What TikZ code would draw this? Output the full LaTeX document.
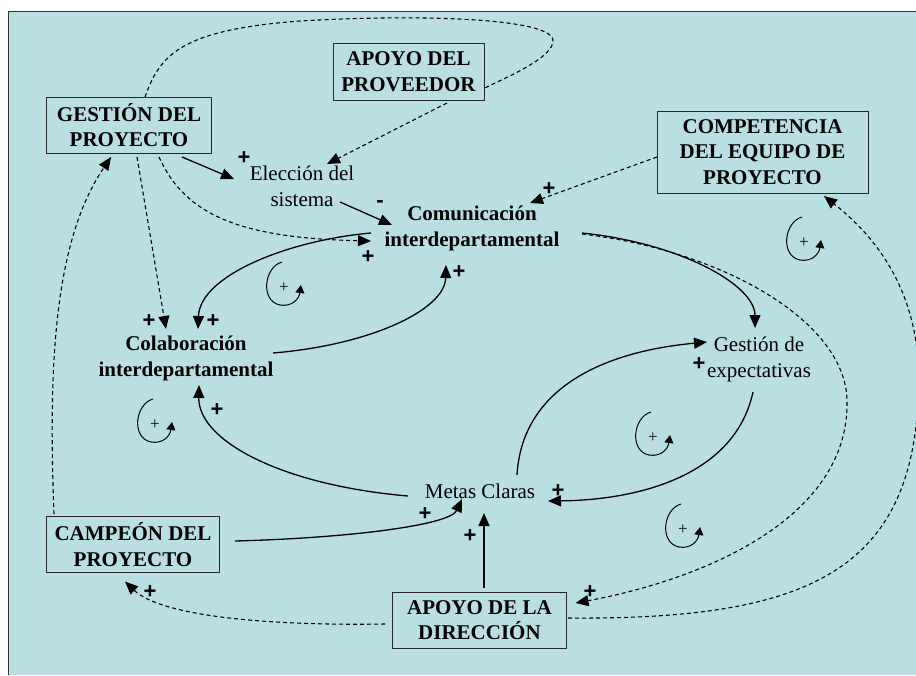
\documentclass[tikz,border=0pt]{standalone}
\usepackage{fontspec}
\setmainfont{Liberation Serif}
\newfontfamily\signfont{Liberation Sans}
\usetikzlibrary{arrows.meta}
\definecolor{bgblue}{RGB}{186,223,227}
\begin{document}
\begin{tikzpicture}[x=1pt,y=-1pt,
  box/.style={draw=black!85, line width=0.9pt, align=center, inner sep=0pt,
    font=\bfseries\fontsize{21}{25.5}\selectfont},
  var/.style={align=center, inner sep=0pt, font=\fontsize{21}{26}\selectfont},
  bvar/.style={align=center, inner sep=0pt, font=\bfseries\fontsize{21}{26}\selectfont},
  sign/.style={inner sep=0pt, font=\signfont\bfseries\fontsize{22}{22}\selectfont},
  link/.style={line width=1.3pt, -{Triangle[length=13pt,width=11pt]}},
  dlink/.style={line width=1.1pt, dash pattern=on 4pt off 3pt, -{Triangle[length=13pt,width=11pt]}},
  dline/.style={line width=1.1pt, dash pattern=on 4pt off 3pt},
  loopsign/.pic={
    \draw[line width=1pt, -{Triangle[length=8pt,width=9pt]}]
      (-2,-25) .. controls (-20,-20) and (-24,14) .. (-4,18)
      .. controls (8,20) and (15,12) .. (17,-2);
    \node[inner sep=0pt, font=\fontsize{17}{17}\selectfont] (-s) at (0,1) {+};
  }]
\clip (0,0) rectangle (916,675);
\fill[white] (0,0) rectangle (916,675);
\fill[bgblue] (8,11) rectangle (916,675);
\draw[line width=1pt, black!80] (8,675) -- (8,11) -- (916,11);

% boxes
\node[box, minimum width=165, minimum height=56] (gp) at (129,125) {GESTIÓN DEL\\PROYECTO};
\node[box, minimum width=151, minimum height=57] (ap) at (408.5,71.5) {APOYO DEL\\PROVEEDOR};
\node[box, minimum width=211, minimum height=82] (ce) at (762.5,152) {COMPETENCIA\\DEL EQUIPO DE\\PROYECTO};
\node[box, minimum width=173, minimum height=56] (cp) at (133,544.5) {CAMPEÓN DEL\\PROYECTO};
\node[box, minimum width=174, minimum height=56] (ad) at (479.5,620) {APOYO DE LA\\DIRECCIÓN};

% variables
\node[var] (es) at (302,186) {Elección del\\sistema};
\node[bvar] (ci) at (472,228) {Comunicación\\interdepartamental};
\node[bvar] (co) at (186,358) {Colaboración\\interdepartamental};
\node[var] (ge) at (759,359) {Gestión de\\expectativas};
\node[var] (mc) at (480,491) {Metas Claras};

% connectors
\draw[link] ([shift={(53,32)}]gp.center) -- ([shift={(-68,-7)}]es.center);
\draw[dlink] ([shift={(38.5,31.5)}]ap.center) -- ([shift={(25,-22)}]es.center);
\draw[dline] ([shift={(16,-28)}]gp.center) .. controls (160,55) and (180,30) .. (300,21)
   .. controls (420,14) and (550,18) .. (553,40)
   .. controls (555,58) and (500,80) .. ([shift={(76.5,16.5)}]ap.center);
\draw[link] ([shift={(38,16)}]es.center) -- ([shift={(-80,-3)}]ci.center);
\draw[dlink] ([shift={(30,32)}]gp.center) .. controls (185,215) and (240,238) .. ([shift={(-101,13)}]ci.center);
\draw[dlink] ([shift={(8,32)}]gp.center) -- ([shift={(-20,-29)}]co.center);
\draw[link] ([shift={(-101,5)}]ci.center) .. controls (290,240) and (200,275) .. ([shift={(12,-29)}]co.center);
\draw[link] ([shift={(87,-5)}]co.center) .. controls (370,345) and (445,310) .. ([shift={(-26,37)}]ci.center);
\draw[link] ([shift={(110,5)}]ci.center) .. controls (680,243) and (755,285) .. ([shift={(-4,-31)}]ge.center);
\draw[dlink] ([shift={(110,6)}]ci.center) .. controls (720,250) and (845,320) .. (847,400)
   .. controls (850,520) and (700,580) .. ([shift={(96,-17)}]ad.center);
\draw[link] ([shift={(37,-16)}]mc.center) .. controls (522,390) and (600,352) .. ([shift={(-52,-17)}]ge.center);
\draw[link] ([shift={(-6,33)}]ge.center) .. controls (735,475) and (640,500) .. ([shift={(68,10)}]mc.center);
\draw[link] ([shift={(-72,5)}]mc.center) .. controls (280,485) and (198,440) .. ([shift={(13,27)}]co.center);
\draw[link] ([shift={(102,-3.5)}]cp.center) .. controls (350,538) and (450,525) .. ([shift={(-18,8)}]mc.center);
\draw[link] ([shift={(4.5,-32)}]ad.center) -- ([shift={(4,22)}]mc.center);
\draw[dlink] ([shift={(-79,-30.5)}]cp.center) .. controls (48,360) and (55,240) .. ([shift={(-18,32)}]gp.center);
\draw[dlink] ([shift={(-94.5,4)}]ad.center) .. controls (260,626) and (160,615) .. ([shift={(-8,37)}]cp.center);
\draw[dlink] ([shift={(88.5,-2)}]ad.center) .. controls (800,620) and (910,575) .. (918,400)
   .. controls (925,300) and (880,240) .. ([shift={(61.5,44)}]ce.center);
\draw[dlink] ([shift={(-105.5,5)}]ce.center) -- ([shift={(58,-25)}]ci.center);

% signs
\node[sign] (s1) at (244,158) {+};
\node[sign] (s2) at (380,204) {-};
\node[sign] (s3) at (368,257) {+};
\node[sign] (s4) at (149,321) {+};
\node[sign] (s5) at (213,321) {+};
\node[sign] (s6) at (459,272) {+};
\node[sign] (s7) at (590,592) {+};
\node[sign] (s8) at (699,364) {+};
\node[sign] (s9) at (558,491) {+};
\node[sign] (s10) at (217,410) {+};
\node[sign] (s11) at (425,514) {+};
\node[sign] (s12) at (470,536) {+};
\node[sign] (s13) at (150,592) {+};
\node[sign] (s14) at (549,189) {+};

% loop markers
\pic (l1) at (284,287) {loopsign};
\pic (l2) at (804,242) {loopsign};
\pic (l3) at (155,424) {loopsign};
\pic (l4) at (653,437) {loopsign};
\pic (l5) at (683,529) {loopsign};
\end{tikzpicture}
\end{document}
